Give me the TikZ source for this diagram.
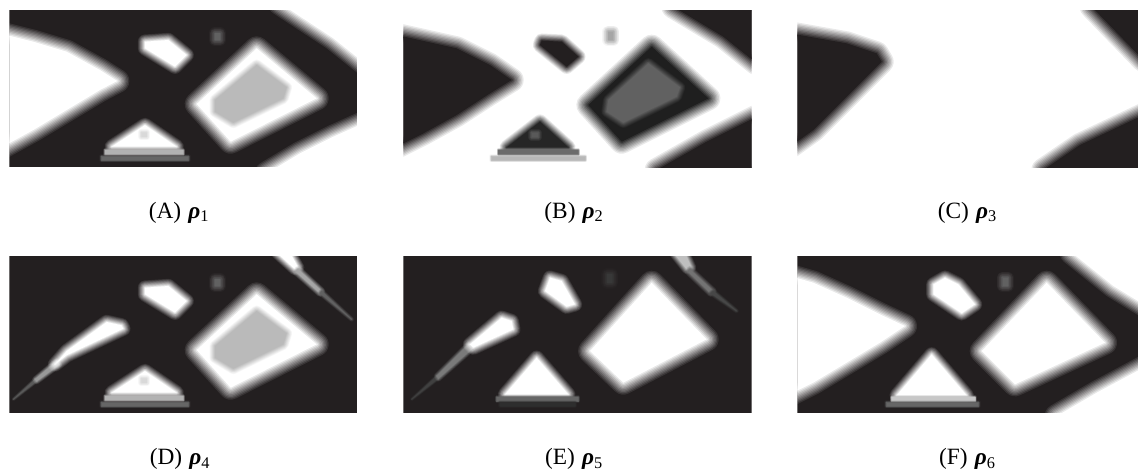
\documentclass[tikz,border=0pt]{standalone}
\usepackage{fontspec}
\setmainfont{Liberation Serif}
\definecolor{ink}{HTML}{231F20}
% soft-edged shape: translucent strokes give a linear ramp around the core
\newcommand{\softshape}[3][1]{%
  \foreach \k in {9,8,7,6,5,4,3,2,1}{%
    \pgfmathsetmacro{\wd}{\k*8*#1*.25}%
    \pgfmathsetmacro{\al}{1/(\k+1)}%
    \draw[draw=#2,draw opacity=\al,line width=\wd pt,line join=round] #3;}%
  \fill[#2] #3;}
\newcommand{\caplabel}[2]{(#1)\ \hspace{1pt}\textbf{\textit{ρ}}\textsubscript{#2}}
% holes shared by panels A and D
\newcommand{\holesAD}{%
  \softshape{white}{(770,145)--(950,295)--(692,425)--(590,312)--cycle}
  \softshape[.45]{black!27}{(770,195)--(860,262)--(850,295)--(700,368)--(645,335)--(645,300)--cycle}
  \softshape[.6]{white}{(435,375)--(530,440)--(335,440)--cycle}
  \softshape[.3]{black!15}{(425,398)--(440,398)--(440,410)--(425,410)--cycle}
  \softshape[.15]{black!30}{(315,450)--(550,450)--(550,463)--(315,463)--cycle}
  \softshape[.2]{black!60}{(305,470)--(565,470)--(565,480)--(305,480)--cycle}
  \softshape[.6]{white}{(435,125)--(505,120)--(560,165)--(525,200)--(435,145)--cycle}
  \softshape[.5]{black!62}{(645,100)--(660,100)--(660,120)--(645,120)--cycle}
}
\tikzset{
  panelink/.style={fill=ink},
  caplab/.style={font=\fontsize{17.5pt}{19pt}\selectfont,inner sep=0pt,anchor=center}
}
\begin{document}
\begin{tikzpicture}[x=.25pt,y=-.25pt]
\useasboundingbox (0,0) rectangle (3414,1416);
\fill[white] (0,0) rectangle (3414,1416);
% ---------- A
\begin{scope}
\clip (28,30) rectangle (1072,502);
\fill[panelink] (28,30) rectangle (1072,502);
\softshape{white}{(0,100)--(100,125)--(200,155)--(300,210)--(352,243)--(300,270)--(200,330)--(100,390)--(0,445)--cycle}
\softshape{white}{(840,10)--(1000,115)--(1100,195)--(1100,0)--(840,0)--cycle}
\softshape{white}{(1100,365)--(1000,410)--(900,460)--(800,520)--(1100,520)--cycle}
\holesAD
\end{scope}
% ---------- B
\begin{scope}[shift={(1170,0)}]
\clip (40,30) rectangle (1085,502);
\softshape{ink}{(20,105)--(200,145)--(300,195)--(365,240)--(300,280)--(200,345)--(100,400)--(20,440)--cycle}
\softshape{ink}{(850,20)--(1000,110)--(1100,190)--(1100,20)--cycle}
\softshape{ink}{(1100,350)--(950,425)--(800,510)--(1100,510)--cycle}
\softshape{black!88}{(785,140)--(955,295)--(695,425)--(595,315)--cycle}
\softshape[.45]{black!62}{(775,190)--(870,262)--(860,290)--(700,368)--(650,335)--(655,300)--cycle}
\softshape[.6]{black!85}{(450,365)--(535,442)--(350,442)--cycle}
\softshape[.3]{black!65}{(425,398)--(445,398)--(445,412)--(425,412)--cycle}
\softshape[.15]{black!58}{(325,450)--(565,450)--(565,463)--(325,463)--cycle}
\softshape[.2]{black!28}{(305,470)--(585,470)--(585,480)--(305,480)--cycle}
\softshape[.6]{ink}{(455,122)--(515,125)--(565,170)--(530,200)--(450,135)--cycle}
\softshape[.5]{black!35}{(655,95)--(670,95)--(670,120)--(655,120)--cycle}
\end{scope}
% ---------- C
\begin{scope}[shift={(2340,0)}]
\clip (52,30) rectangle (1074,502);
\softshape{ink}{(30,100)--(200,130)--(290,160)--(305,185)--(200,290)--(100,390)--(30,440)--cycle}
\softshape{ink}{(935,20)--(1090,180)--(1090,20)--cycle}
\softshape{ink}{(1090,345)--(900,435)--(790,510)--(1090,510)--cycle}
\end{scope}
% ---------- D
\begin{scope}[shift={(0,708)}]
\clip (28,60) rectangle (1072,532);
\fill[panelink] (28,60) rectangle (1072,532);
\softshape[.15]{black!65}{(40,490)--(105,430)--(110,436)--cycle}
\softshape[.25]{black!40}{(105,430)--(170,375)--(178,386)--(110,436)--cycle}
\softshape[.6]{white}{(165,385)--(200,345)--(320,258)--(365,268)--(370,278)--(200,358)--cycle}
\softshape[.5]{white}{(830,50)--(870,50)--(895,95)--(885,100)--cycle}
\softshape[.3]{black!35}{(895,100)--(965,165)--(960,172)--(888,108)--cycle}
\softshape[.2]{black!62}{(965,165)--(1055,250)--(960,172)--cycle}
\begin{scope}[shift={(0,30)}]
\holesAD
\end{scope}
\end{scope}
% ---------- E
\begin{scope}[shift={(1170,708)}]
\clip (40,60) rectangle (1085,532);
\fill[panelink] (40,60) rectangle (1085,532);
\softshape[.15]{black!75}{(65,490)--(140,420)--(145,428)--cycle}
\softshape[.25]{black!52}{(140,420)--(235,325)--(245,340)--(145,428)--cycle}
\softshape[.6]{white}{(240,325)--(335,245)--(365,255)--(370,280)--(250,335)--cycle}
\softshape[.4]{black!25}{(850,50)--(885,50)--(905,95)--(890,100)--cycle}
\softshape[.3]{black!55}{(900,100)--(970,165)--(962,172)--(895,108)--cycle}
\softshape[.2]{black!72}{(970,165)--(1040,225)--(962,172)--cycle}
\softshape{white}{(785,140)--(950,310)--(700,440)--(600,345)--cycle}
\softshape[.6]{white}{(440,365)--(535,475)--(345,475)--cycle}
\softshape[.15]{black!60}{(320,483)--(565,483)--(565,495)--(320,495)--cycle}
\softshape[.2]{black!82}{(330,500)--(555,500)--(555,510)--(330,510)--cycle}
\softshape[.6]{white}{(480,125)--(515,135)--(555,205)--(530,212)--(465,165)--cycle}
\softshape[.5]{black!78}{(652,115)--(667,115)--(667,140)--(652,140)--cycle}
\end{scope}
% ---------- F
\begin{scope}[shift={(2340,708)}]
\clip (52,60) rectangle (1074,532);
\fill[panelink] (52,60) rectangle (1074,532);
\softshape{white}{(30,120)--(100,140)--(200,185)--(300,235)--(375,270)--(300,320)--(200,380)--(100,440)--(30,475)--cycle}
\softshape{white}{(875,50)--(1000,150)--(1090,205)--(1090,50)--cycle}
\softshape{white}{(1090,395)--(950,470)--(830,540)--(1090,540)--cycle}
\softshape{white}{(800,140)--(975,320)--(705,445)--(605,345)--cycle}
\softshape[.6]{white}{(455,355)--(560,478)--(350,478)--cycle}
\softshape[.15]{black!22}{(335,483)--(585,483)--(585,495)--(335,495)--cycle}
\softshape[.2]{black!60}{(320,500)--(595,500)--(595,510)--(320,510)--cycle}
\softshape[.6]{white}{(495,125)--(535,145)--(585,205)--(545,232)--(460,175)--(460,145)--cycle}
\softshape[.5]{black!62}{(668,125)--(684,125)--(684,150)--(668,150)--cycle}
\end{scope}
% ---------- captions
\node[caplab] (capA) at (537,638) {\caplabel{A}{1}};
\node[caplab] (capB) at (1722,638) {\caplabel{B}{2}};
\node[caplab] (capC) at (2902,638) {\caplabel{C}{3}};
\node[caplab] (capD) at (540,1378) {\caplabel{D}{4}};
\node[caplab] (capE) at (1722,1378) {\caplabel{E}{5}};
\node[caplab] (capF) at (2902,1378) {\caplabel{F}{6}};
\end{tikzpicture}
\end{document}
